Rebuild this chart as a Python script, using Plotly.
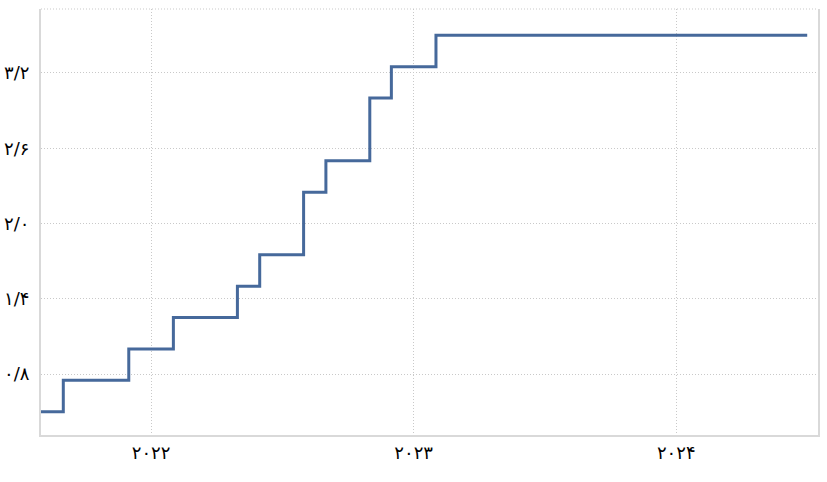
import plotly.graph_objects as go

# Monthly observations (first of month), Aug 2021 .. Jul 2024
months = [
    "2021-08-01", "2021-09-01", "2021-10-01", "2021-11-01", "2021-12-01",
    "2022-01-01", "2022-02-01", "2022-03-01", "2022-04-01", "2022-05-01",
    "2022-06-01", "2022-07-01", "2022-08-01", "2022-09-01", "2022-10-01",
    "2022-11-01", "2022-12-01", "2023-01-01", "2023-02-01", "2023-03-01",
    "2023-04-01", "2023-05-01", "2023-06-01", "2023-07-01", "2023-08-01",
    "2023-09-01", "2023-10-01", "2023-11-01", "2023-12-01", "2024-01-01",
    "2024-02-01", "2024-03-01", "2024-04-01", "2024-05-01", "2024-06-01",
    "2024-07-01",
]
rate = [
    0.50, 0.75, 0.75, 0.75, 1.00,
    1.00, 1.25, 1.25, 1.25, 1.50,
    1.75, 1.75, 2.25, 2.50, 2.50,
    3.00, 3.25, 3.25, 3.50, 3.50,
    3.50, 3.50, 3.50, 3.50, 3.50,
    3.50, 3.50, 3.50, 3.50, 3.50,
    3.50, 3.50, 3.50, 3.50, 3.50,
    3.50,
]

y_tickvals = [0.8, 1.4, 2.0, 2.6, 3.2]
y_ticktext = ["۰/۸", "۱/۴", "۲/۰", "۲/۶", "۳/۲"]
x_tickvals = ["2022-01-01", "2023-01-01", "2024-01-01"]
x_ticktext = ["۲۰۲۲", "۲۰۲۳", "۲۰۲۴"]

grid_col = "#c9c9c9"
axis_col = "#d9d9d9"

fig = go.Figure()
fig.add_trace(go.Scatter(
    x=months, y=rate, mode="lines", line_shape="hv",
    line=dict(color="#46699b", width=3),
    hoverinfo="skip", showlegend=False,
))

fig.update_layout(
    width=827, height=482,
    margin=dict(l=41, r=9, t=9, b=47),
    paper_bgcolor="white", plot_bgcolor="white",
    font=dict(family="DejaVu Sans", size=18, color="#000000"),
    hovermode=False,
    xaxis=dict(
        type="date", range=["2021-08-01", "2024-07-16"],
        tickvals=x_tickvals, ticktext=x_ticktext,
        showgrid=True, gridcolor=grid_col, griddash="1px,2px", gridwidth=1,
        showline=True, linecolor=axis_col, linewidth=2,
        ticks="", zeroline=False, automargin=False,
    ),
    yaxis=dict(
        range=[0.314, 3.71],
        tickvals=y_tickvals, ticktext=y_ticktext,
        showgrid=True, gridcolor=grid_col, griddash="1px,2px", gridwidth=1,
        showline=True, mirror=True, linecolor=axis_col, linewidth=2,
        ticks="outside", ticklen=6, tickcolor="rgba(0,0,0,0)",
        zeroline=False, automargin=False,
    ),
    shapes=[dict(
        type="line", xref="paper", yref="paper", x0=0, x1=1, y0=1, y1=1,
        line=dict(color=grid_col, width=1, dash="1px,2px"),
    )],
)

fig.write_html(
    "out.html",
    config={"displayModeBar": False, "staticPlot": True},
    post_script="document.body.style.margin='0';document.body.style.overflow='hidden';",
)
